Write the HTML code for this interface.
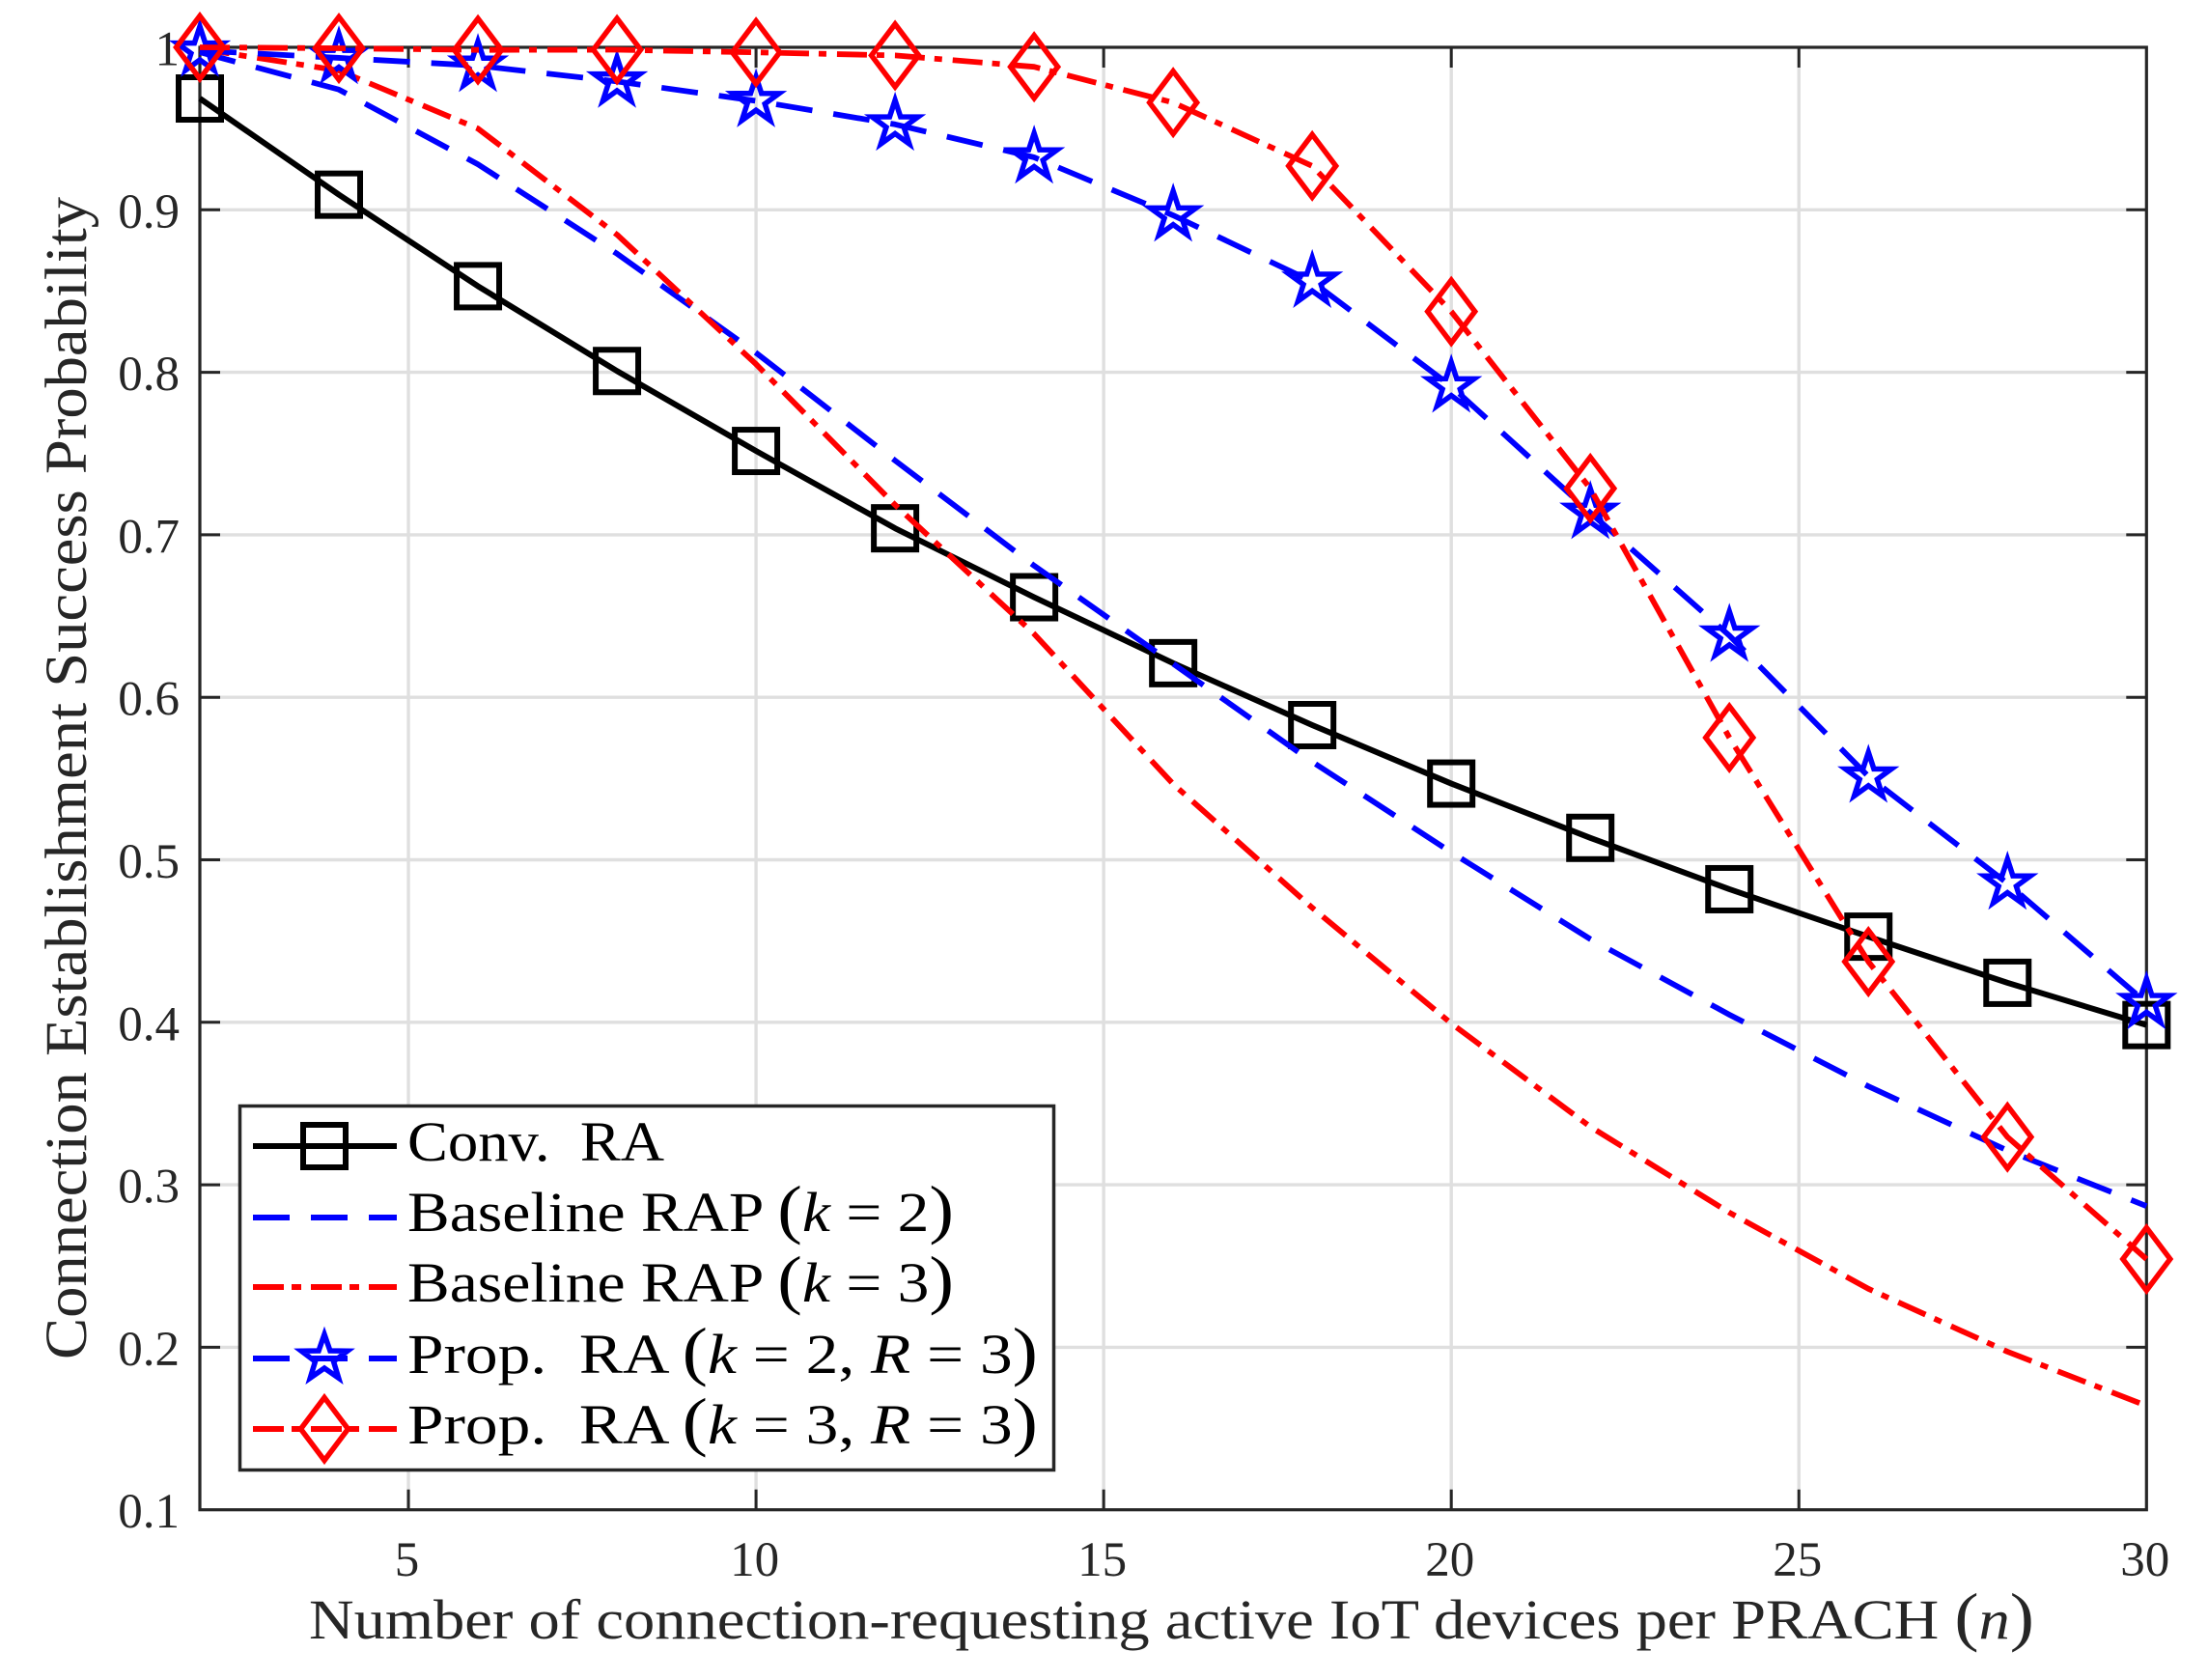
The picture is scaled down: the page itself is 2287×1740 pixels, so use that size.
<!DOCTYPE html>
<html lang="en">
<head>
<meta charset="utf-8">
<title>Connection Establishment Success Probability</title>
<style>
html,body{margin:0;padding:0;background:#fff;}
#chart{display:block;width:2287px;height:1740px;}
text{font-family:"Liberation Serif",serif;fill:#262626;}
.legend-text{fill:#000;font-size:58px;}
.paren{font-size:68px;}
</style>
</head>
<body>
<svg id="chart" xmlns="http://www.w3.org/2000/svg" width="2287" height="1740" viewBox="0 0 2287 1740">
  <rect x="0" y="0" width="2287" height="1740" fill="#fff"/>
  <g id="grid"></g>
  <g id="axes"></g>
  <g id="series"></g>
  <text x="320" y="1697" font-size="58" textLength="1787" lengthAdjust="spacingAndGlyphs">Number of connection-requesting active IoT devices per PRACH <tspan class="paren">(</tspan><tspan font-style="italic">n</tspan><tspan class="paren">)</tspan></text>
  <text transform="translate(89,1408) rotate(-90)" x="0" y="0" font-size="61" textLength="1204" lengthAdjust="spacingAndGlyphs">Connection Establishment Success Probability</text>
  <g id="legend">
    <rect x="248.5" y="1145.5" width="843" height="377" fill="#fff" stroke="#262626" stroke-width="3.5"/>
    <g>
      <line x1="262" y1="1187" x2="411" y2="1187" stroke="#000" stroke-width="6"/>
      <rect x="314" y="1165" width="44" height="44" fill="none" stroke="#000" stroke-width="6"/>
      <text class="legend-text" x="422" y="1202" textLength="266" lengthAdjust="spacingAndGlyphs">Conv.&#160; RA</text>
    </g>
    <g>
      <line x1="262" y1="1261" x2="411" y2="1261" stroke="#0000ff" stroke-width="6" stroke-dasharray="38 22"/>
      <text class="legend-text" x="422" y="1275" textLength="566" lengthAdjust="spacingAndGlyphs">Baseline RAP <tspan class="paren">(</tspan><tspan font-style="italic">k</tspan> = 2<tspan class="paren">)</tspan></text>
    </g>
    <g>
      <line x1="262" y1="1333" x2="411" y2="1333" stroke="#ff0000" stroke-width="6" stroke-dasharray="32 8 10 10"/>
      <text class="legend-text" x="422" y="1348" textLength="566" lengthAdjust="spacingAndGlyphs">Baseline RAP <tspan class="paren">(</tspan><tspan font-style="italic">k</tspan> = 3<tspan class="paren">)</tspan></text>
    </g>
    <g>
      <line x1="262" y1="1407" x2="411" y2="1407" stroke="#0000ff" stroke-width="6" stroke-dasharray="38 22"/>
      <polygon points="336,1382 341.9,1399 359.8,1399.3 345.5,1410.1 350.7,1427.2 336,1417 321.3,1427.2 326.5,1410.1 312.2,1399.3 330.1,1399" fill="none" stroke="#0000ff" stroke-width="5.5" stroke-miterlimit="12"/>
      <text class="legend-text" x="422" y="1422" textLength="653" lengthAdjust="spacingAndGlyphs">Prop.&#160; RA <tspan class="paren">(</tspan><tspan font-style="italic">k</tspan> = 2, <tspan font-style="italic">R</tspan> = 3<tspan class="paren">)</tspan></text>
    </g>
    <g>
      <line x1="262" y1="1480" x2="411" y2="1480" stroke="#ff0000" stroke-width="6" stroke-dasharray="32 8 10 10"/>
      <polygon points="336,1447.5 360.5,1480 336,1512.5 311.5,1480" fill="none" stroke="#ff0000" stroke-width="5.5" stroke-miterlimit="12"/>
      <text class="legend-text" x="422" y="1495" textLength="653" lengthAdjust="spacingAndGlyphs">Prop.&#160; RA <tspan class="paren">(</tspan><tspan font-style="italic">k</tspan> = 3, <tspan font-style="italic">R</tspan> = 3<tspan class="paren">)</tspan></text>
    </g>
  </g>
</svg>
<script>
// Chart data
const nValues = [2,4,6,8,10,12,14,16,18,20,22,24,26,28,30];
const convRA = [0.9685,0.9093,0.853,0.8008,0.7516,0.704,0.6616,0.621,0.5829,0.5469,0.5135,0.4819,0.4527,0.4243,0.3983];
const baselineK2 = [0.997,0.974,0.928,0.873,0.812,0.7457,0.681,0.6206,0.5603,0.5046,0.4512,0.4047,0.3606,0.3211,0.2869];
const baselineK3 = [0.999,0.9857,0.95,0.8847,0.805,0.7184,0.639,0.5466,0.4705,0.3993,0.3357,0.2829,0.236,0.1973,0.164];
const propK2 = [0.998,0.9935,0.9887,0.979,0.967,0.9526,0.9323,0.8966,0.8558,0.7914,0.7136,0.638,0.5513,0.4855,0.4119];
const propK3 = [1.0,0.9994,0.9984,0.9985,0.9969,0.995,0.988,0.966,0.927,0.8374,0.7285,0.5752,0.4373,0.3294,0.2543];
const xTicks = [5,10,15,20,25,30];
const yTicks = [0.1,0.2,0.3,0.4,0.5,0.6,0.7,0.8,0.9,1];

const NS = 'http://www.w3.org/2000/svg';
const plotLeft = 207, plotRight = 2223.3, plotTop = 49, plotBottom = 1563.7;
const xMin = 2, xMax = 30, yMin = 0.1, yMax = 1;
function xScale(v){ return plotLeft + (v - xMin) / (xMax - xMin) * (plotRight - plotLeft); }
function yScale(v){ return plotBottom - (v - yMin) / (yMax - yMin) * (plotBottom - plotTop); }
function make(tag, parent, attrs){
  const el = document.createElementNS(NS, tag);
  for (const k in attrs) el.setAttribute(k, attrs[k]);
  parent.appendChild(el);
  return el;
}

const gridG = document.getElementById('grid');
const axesG = document.getElementById('axes');
const seriesG = document.getElementById('series');
const axisColor = '#262626', gridColor = '#dfdfdf', tickLen = 21;

xTicks.forEach(function(t){
  const x = xScale(t);
  if (t < xMax) {
    const g = make('line', gridG, {x1:x, y1:plotTop, x2:x, y2:plotBottom, stroke:gridColor, 'stroke-width':3.4});
    
    
    const tb = make('line', axesG, {x1:x, y1:plotBottom, x2:x, y2:plotBottom - tickLen, stroke:axisColor, 'stroke-width':3});
    
    
    const tt = make('line', axesG, {x1:x, y1:plotTop, x2:x, y2:plotTop + tickLen, stroke:axisColor, 'stroke-width':3});
    
    
  }
  const lab = make('text', axesG, {x:x - 1.5, y:1632, 'font-size':51, 'text-anchor':'middle'});
  lab.textContent = String(t);
  
  
});

yTicks.forEach(function(t){
  const y = yScale(t);
  if (t > yMin && t < yMax) {
    const g = make('line', gridG, {x1:plotLeft, y1:y, x2:plotRight, y2:y, stroke:gridColor, 'stroke-width':3.4});
    
    
    const tl = make('line', axesG, {x1:plotLeft, y1:y, x2:plotLeft + tickLen, y2:y, stroke:axisColor, 'stroke-width':3});
    
    
    const tr = make('line', axesG, {x1:plotRight, y1:y, x2:plotRight - tickLen, y2:y, stroke:axisColor, 'stroke-width':3});
    
    
  }
  const lab = make('text', axesG, {x:186, y:y + 18.5, 'font-size':51, 'text-anchor':'end'});
  lab.textContent = String(t);
  
  
});

const box = make('rect', axesG, {x:plotLeft, y:plotTop, width:plotRight - plotLeft, height:plotBottom - plotTop, fill:'none', stroke:axisColor, 'stroke-width':3.2});



function drawLine(values, color, dash, width, name){
  const pts = values.map(function(v, i){ return xScale(nValues[i]).toFixed(2) + ',' + yScale(v).toFixed(2); }).join(' ');
  const line = make('polyline', seriesG, {points:pts, fill:'none', stroke:color, 'stroke-width':width, 'stroke-linejoin':'round'});
  if (dash) line.setAttribute('stroke-dasharray', dash);
  
  
}
function starPoints(cx, cy){
  const R = 25, r = 9.6, out = [];
  for (let i = 0; i < 10; i++) {
    const a = -Math.PI / 2 + i * Math.PI / 5, q = i % 2 ? r : R;
    out.push((cx + q * Math.cos(a)).toFixed(2) + ',' + (cy + q * Math.sin(a)).toFixed(2));
  }
  return out.join(' ');
}
function drawMarkers(values, kind, name){
  values.forEach(function(v, i){
    const cx = xScale(nValues[i]), cy = yScale(v);
    let m;
    if (kind === 'square') {
      m = make('rect', seriesG, {x:cx - 22, y:cy - 22, width:44, height:44, fill:'none', stroke:'#000', 'stroke-width':6});
    } else if (kind === 'star') {
      m = make('polygon', seriesG, {points:starPoints(cx, cy), fill:'none', stroke:'#0000ff', 'stroke-width':5.5, 'stroke-miterlimit':12});
    } else {
      m = make('polygon', seriesG, {points:[cx, cy - 32.5, cx + 24.5, cy, cx, cy + 32.5, cx - 24.5, cy].join(' '), fill:'none', stroke:'#ff0000', 'stroke-width':5.5, 'stroke-miterlimit':12});
    }
    
    
  });
}

const dashed = '38 22', dashDot = '31 10 8 11';
drawLine(convRA, '#000', null, 6, 'series-conv-ra');
drawMarkers(convRA, 'square', 'conv-ra');
drawLine(baselineK2, '#0000ff', dashed, 5.8, 'series-baseline-k2');
drawLine(baselineK3, '#ff0000', dashDot, 5.8, 'series-baseline-k3');
drawLine(propK2, '#0000ff', dashed, 5.8, 'series-prop-k2');
drawMarkers(propK2, 'star', 'prop-k2');
drawLine(propK3, '#ff0000', dashDot, 5.8, 'series-prop-k3');
drawMarkers(propK3, 'diamond', 'prop-k3');
</script>
</body>
</html>
